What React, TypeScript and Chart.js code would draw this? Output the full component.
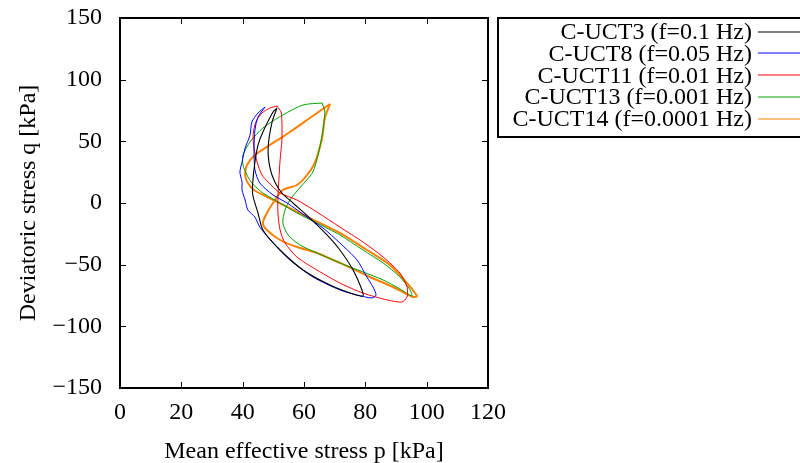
import { useEffect, useRef } from 'react';
import { Chart, registerables } from 'chart.js';

Chart.register(...registerables);

// Effective stress paths (p, q) in kPa for each cyclic undrained triaxial test
const uct3P = [51.2, 49.9, 46.6, 45.0, 44.0, 43.3, 43.3, 45.0, 46.6, 52.2, 59.7, 68.5, 76.0, 79.2, 78.9, 76.0, 71.7, 67.5, 61.9, 56.4, 52.8, 50.5, 48.9, 48.3, 49.6, 51.2];
const uct3Q = [77.0, 73.8, 57.6, 47.0, 33.2, 17.0, 6.5, -8.1, -21.9, -38.1, -54.3, -66.5, -73.8, -75.4, -70.5, -54.3, -38.1, -25.9, -12.2, 0, 8.1, 17.0, 28.4, 44.6, 65.7, 77.0];

const uct8P = [47.3, 45.0, 43.0, 42.4, 40.8, 39.8, 39.1, 39.8, 39.8, 40.8, 41.7, 44.0, 45.6, 49.9, 55.4, 62.9, 71.7, 77.3, 82.2, 83.5, 82.5, 80.5, 77.3, 71.7, 66.2, 61.0, 54.5, 49.9, 45.6, 44.0, 43.7, 44.0, 45.0, 47.3];
const uct8Q = [77.8, 73.0, 65.7, 55.1, 44.6, 33.2, 25.1, 17.0, 10.5, 2.4, -5.7, -11.4, -19.5, -32.4, -46.2, -60.0, -70.5, -74.6, -77.0, -74.6, -68.1, -60.0, -46.2, -32.4, -20.3, -11.4, 0, 6.5, 16.2, 26.8, 43.0, 59.2, 69.7, 77.8];

const uct11P = [51.2, 48.9, 46.3, 44.3, 43.4, 43.7, 44.7, 46.3, 48.3, 52.2, 57.7, 64.2, 71.7, 79.2, 85.8, 91.3, 93.6, 93.6, 91.9, 87.1, 79.2, 71.7, 64.2, 57.7, 53.8, 52.2, 51.5, 51.5, 51.8, 52.2, 52.8, 52.8, 52.5, 51.2];
const uct11Q = [78.6, 77.0, 73.0, 65.7, 55.1, 44.6, 33.2, 22.7, 17.0, 8.1, 2.4, -7.3, -19.5, -31.6, -43.8, -56.8, -68.1, -76.2, -80.3, -78.6, -73.0, -64.9, -54.3, -43.8, -32.4, -21.9, -8.1, 4.9, 18.6, 34.9, 51.1, 65.7, 73.8, 78.6];

const uct13P = [65.9, 59.7, 53.1, 46.6, 42.4, 40.1, 40.1, 41.4, 43.0, 46.6, 52.2, 57.7, 64.2, 71.7, 79.2, 85.8, 91.3, 94.6, 95.2, 91.3, 85.8, 79.2, 71.7, 64.2, 58.7, 54.8, 53.1, 53.8, 55.4, 58.0, 60.3, 62.9, 64.6, 65.9, 66.8, 65.9];
const uct13Q = [81.1, 79.5, 71.4, 60.8, 49.5, 38.9, 30.8, 22.7, 16.2, 8.1, 0, -8.1, -16.2, -25.9, -38.1, -48.6, -60.0, -70.5, -75.4, -69.7, -62.4, -55.9, -48.6, -40.5, -34.1, -25.9, -16.2, -5.7, 2.4, 10.5, 17.0, 25.1, 38.9, 55.1, 73.8, 81.1];

const uct14P = [68.5, 61.9, 55.4, 48.9, 44.0, 41.4, 40.8, 41.7, 43.7, 47.9, 54.5, 61.9, 71.7, 80.5, 88.0, 93.6, 96.8, 95.5, 89.0, 81.5, 71.7, 64.2, 57.7, 52.2, 47.9, 46.6, 47.9, 49.9, 53.1, 57.7, 61.0, 63.6, 65.9, 66.8, 68.5];
const uct14Q = [80.3, 68.9, 57.6, 47.0, 38.9, 30.8, 22.7, 16.2, 10.5, 4.9, -3.2, -12.2, -24.3, -38.1, -50.3, -64.9, -75.4, -76.2, -68.1, -60.0, -48.6, -40.5, -35.7, -30.0, -21.9, -16.2, -8.1, 0, 10.5, 14.6, 22.7, 33.2, 52.7, 68.9, 80.3];

const seriesLabels = [
  'C-UCT3 (f=0.1 Hz)',
  'C-UCT8 (f=0.05 Hz)',
  'C-UCT11 (f=0.01 Hz)',
  'C-UCT13 (f=0.001 Hz)',
  'C-UCT14 (f=0.0001 Hz)',
];
const seriesColors = ['#000000', '#0000ff', '#ff0000', '#00a000', '#ff8000'];
const seriesP = [uct3P, uct8P, uct11P, uct13P, uct14P];
const seriesQ = [uct3Q, uct8Q, uct11Q, uct13Q, uct14Q];
const seriesWidths = [1.1, 1, 1, 1, 2];

const xTicks = [0, 20, 40, 60, 80, 100, 120];
const yTicks = [-150, -100, -50, 0, 50, 100, 150];

const FONT = "'Liberation Serif', 'Times New Roman', serif";
const FONT_SIZE = 24;

// Border box with inward tick marks on all four sides
const framePlugin = {
  id: 'frame',
  afterDatasetsDraw(chart: any) {
    const { ctx, chartArea: a, scales } = chart;
    ctx.save();
    ctx.strokeStyle = '#000';
    ctx.lineWidth = 1;
    const len = 6;
    ctx.beginPath();
    for (const v of xTicks) {
      const x = Math.round(scales.x.getPixelForValue(v)) + 0.5;
      ctx.moveTo(x, a.bottom);
      ctx.lineTo(x, a.bottom - len);
      ctx.moveTo(x, a.top);
      ctx.lineTo(x, a.top + len);
    }
    for (const v of yTicks) {
      const y = Math.round(scales.y.getPixelForValue(v)) + 0.5;
      ctx.moveTo(a.left, y);
      ctx.lineTo(a.left + len, y);
      ctx.moveTo(a.right, y);
      ctx.lineTo(a.right - len, y);
    }
    ctx.stroke();
    ctx.lineWidth = 2;
    ctx.strokeRect(a.left, a.top, a.right - a.left, a.bottom - a.top);
    ctx.restore();
  },
};

// Key box to the right of the plot: right-aligned labels followed by line samples
const keyPlugin = {
  id: 'keyBox',
  afterDraw(chart: any) {
    const { ctx } = chart;
    const boxLeft = 498;
    const boxTop = 18;
    const boxBottom = 137;
    const rowTop = 31.5;
    const rowStep = 21.9;
    ctx.save();
    ctx.strokeStyle = '#000';
    ctx.lineWidth = 2;
    ctx.strokeRect(boxLeft, boxTop, 320, boxBottom - boxTop);
    ctx.font = `${FONT_SIZE}px ${FONT}`;
    ctx.fillStyle = '#000';
    ctx.textAlign = 'right';
    ctx.textBaseline = 'middle';
    seriesLabels.forEach((label, i) => {
      const y = rowTop + i * rowStep;
      ctx.fillText(label, 752, y + 1);
      ctx.strokeStyle = seriesColors[i];
      ctx.lineWidth = 1;
      ctx.beginPath();
      ctx.moveTo(758, Math.round(y));
      ctx.lineTo(800, Math.round(y));
      ctx.stroke();
    });
    ctx.restore();
  },
};

export default function App() {
  const canvasRef = useRef<HTMLCanvasElement | null>(null);

  useEffect(() => {
    const canvas = canvasRef.current;
    if (!canvas) return;
    const font = { family: FONT, size: FONT_SIZE };
    const datasets = seriesLabels.map((label, i) => ({
      label,
      data: seriesP[i].map((p, k) => ({ x: p, y: seriesQ[i][k] })),
      borderColor: seriesColors[i],
      backgroundColor: seriesColors[i],
      borderWidth: seriesWidths[i],
      showLine: true,
      pointRadius: 0,
      tension: 0.25,
      fill: false,
    }));
    const chart = new Chart(canvas, {
      type: 'scatter',
      data: { datasets },
      options: {
        animation: false,
        responsive: false,
        devicePixelRatio: 1,
        layout: { padding: { top: 18, right: 312, bottom: 0, left: 0 } },
        plugins: {
          legend: { display: false },
          tooltip: { enabled: false },
        },
        scales: {
          x: {
            type: 'linear',
            min: 0,
            max: 120,
            afterBuildTicks: (s: any) => {
              s.ticks = xTicks.map((v) => ({ value: v }));
            },
            afterFit: (s: any) => {
              s.height = 75;
              s.paddingLeft = 0;
              s.paddingRight = 0;
            },
            ticks: { font, color: '#000', padding: 10, maxRotation: 0 },
            grid: { display: false, drawTicks: false },
            border: { display: false },
            title: {
              display: true,
              text: 'Mean effective stress p [kPa]',
              font,
              color: '#000',
              padding: { top: 0, bottom: -3 },
            },
          },
          y: {
            type: 'linear',
            min: -150,
            max: 150,
            afterBuildTicks: (s: any) => {
              s.ticks = yTicks.map((v) => ({ value: v }));
            },
            afterFit: (s: any) => {
              s.width = 120;
              s.paddingTop = 0;
              s.paddingBottom = 0;
            },
            ticks: {
              font,
              color: '#000',
              padding: 18,
              callback: (v: any) => (Number(v) < 0 ? '\u2212' + Math.abs(Number(v)) : String(v)),
            },
            grid: { display: false, drawTicks: false },
            border: { display: false },
            title: {
              display: true,
              text: 'Deviatoric stress q [kPa]',
              font,
              color: '#000',
              padding: { top: 14, bottom: 0 },
            },
          },
        },
      },
      plugins: [framePlugin, keyPlugin],
    });
    return () => chart.destroy();
  }, []);

  return (
    <div style={{ position: 'fixed', left: 0, top: 0, width: 800, height: 463, background: '#fff' }}>
      <canvas ref={canvasRef} width={800} height={463} />
    </div>
  );
}
